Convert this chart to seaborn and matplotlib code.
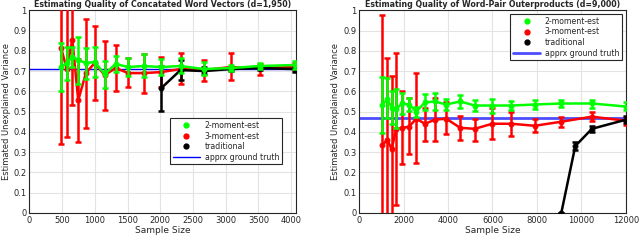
import matplotlib
matplotlib.use("Agg")
import matplotlib.pyplot as plt
from matplotlib.lines import Line2D
import seaborn as sns
import pandas as pd

# ---- left panel: concatenated word vectors ----
left_n = [484, 570, 656, 746, 862, 998, 1150, 1316, 1513, 1745, 2012, 2310, 2668, 3076, 3520, 4065]
left_m2 = [0.72, 0.74, 0.77, 0.755, 0.74, 0.745, 0.685, 0.735, 0.72, 0.725, 0.72, 0.725, 0.71, 0.715, 0.725, 0.73]
left_m2_lo = [0.60, 0.655, 0.72, 0.635, 0.66, 0.67, 0.615, 0.695, 0.675, 0.67, 0.68, 0.69, 0.68, 0.70, 0.71, 0.71]
left_m2_hi = [0.84, 0.82, 0.82, 0.87, 0.815, 0.82, 0.75, 0.775, 0.765, 0.785, 0.76, 0.765, 0.745, 0.73, 0.74, 0.75]
left_m3 = [0.815, 0.71, 0.855, 0.555, 0.69, 0.74, 0.68, 0.715, 0.69, 0.69, 0.695, 0.71, 0.705, 0.72, 0.715, 0.72]
left_m3_lo = [0.34, 0.375, 0.535, 0.35, 0.42, 0.555, 0.51, 0.60, 0.62, 0.59, 0.62, 0.635, 0.65, 0.655, 0.68, 0.70]
left_m3_hi = [1.29, 1.05, 1.17, 0.76, 0.955, 0.925, 0.85, 0.83, 0.765, 0.785, 0.77, 0.79, 0.755, 0.79, 0.735, 0.74]
left_tr_n = [2012, 2310, 2668, 3076, 3520, 4065]
left_tr = [0.615, 0.705, 0.70, 0.71, 0.715, 0.71]
left_tr_lo = [0.505, 0.655, 0.685, 0.70, 0.705, 0.695]
left_tr_hi = [0.725, 0.755, 0.72, 0.72, 0.725, 0.725]
left_truth = 0.71

# ---- right panel: word-pair outerproducts ----
right_n = [1047, 1271, 1466, 1675, 1945, 2244, 2573, 2962, 3411, 3919, 4548, 5206, 5984, 6851, 7898, 9095, 10471, 12000]
right_m2 = [0.535, 0.56, 0.52, 0.515, 0.54, 0.535, 0.50, 0.545, 0.55, 0.535, 0.55, 0.53, 0.53, 0.53, 0.535, 0.54, 0.54, 0.525]
right_m2_lo = [0.395, 0.47, 0.44, 0.42, 0.49, 0.505, 0.475, 0.51, 0.51, 0.51, 0.52, 0.505, 0.495, 0.51, 0.515, 0.525, 0.52, 0.51]
right_m2_hi = [0.67, 0.665, 0.60, 0.61, 0.59, 0.565, 0.525, 0.585, 0.59, 0.56, 0.58, 0.555, 0.56, 0.55, 0.555, 0.555, 0.555, 0.545]
right_m3 = [0.335, 0.36, 0.315, 0.415, 0.42, 0.425, 0.465, 0.44, 0.46, 0.465, 0.42, 0.415, 0.44, 0.44, 0.43, 0.45, 0.475, 0.455]
right_m3_lo = [-0.3, -0.05, -0.05, 0.04, 0.24, 0.29, 0.245, 0.355, 0.355, 0.39, 0.36, 0.355, 0.365, 0.38, 0.40, 0.425, 0.455, 0.435]
right_m3_hi = [0.975, 0.765, 0.675, 0.79, 0.60, 0.565, 0.69, 0.52, 0.565, 0.545, 0.48, 0.465, 0.52, 0.50, 0.465, 0.475, 0.50, 0.475]
right_tr_n = [9095, 9723, 10471, 12000]
right_tr = [0.0, 0.33, 0.415, 0.46]
right_tr_lo = [0.0, 0.31, 0.40, 0.445]
right_tr_hi = [0.0, 0.35, 0.43, 0.48]
right_truth = 0.47

GREEN = "#00ff00"
RED = "#ff0000"
BLACK = "#000000"
TXT = "#262626"

sns.set_style("whitegrid", {"grid.color": "#e3e3e3", "axes.edgecolor": TXT})
plt.rcParams["font.family"] = ["DejaVu Sans"]


def draw_series(ax, n, y, lo, hi, color, zorder):
    df = pd.DataFrame({"n": n, "y": y})
    sns.lineplot(data=df, x="n", y="y", ax=ax, color=color, lw=1.8, marker="o",
                 markersize=3.5, markeredgecolor=color, zorder=zorder, legend=False)
    yerr = [[v - l for v, l in zip(y, lo)], [h - v for v, h in zip(y, hi)]]
    ax.errorbar(n, y, yerr=yerr, fmt="none", ecolor=color, elinewidth=1.8,
                capsize=2.5, capthick=1.8, zorder=zorder)


def panel(ax, title, n, m2, m2_lo, m2_hi, m3, m3_lo, m3_hi,
          tr_n, tr, tr_lo, tr_hi, truth, xmax, xticks, truth_style, legend_loc):
    ax.axhline(truth, **truth_style, zorder=1)
    draw_series(ax, n, m3, m3_lo, m3_hi, RED, 3)
    draw_series(ax, tr_n, tr, tr_lo, tr_hi, BLACK, 4)
    draw_series(ax, n, m2, m2_lo, m2_hi, GREEN, 5)
    ax.set_xlim(0, xmax)
    ax.set_ylim(0, 1)
    ax.set_xticks(xticks)
    ax.set_yticks([i / 10 for i in range(11)])
    ax.set_yticklabels(["0"] + [f"{i / 10:g}" for i in range(1, 10)] + ["1"])
    ax.tick_params(labelsize=6, colors=TXT, length=2, direction="in", pad=2)
    ax.set_title(title, fontsize=5.7, fontweight="bold", pad=2.5)
    ax.set_xlabel("Sample Size", fontsize=6.5, color=TXT, labelpad=1)
    ax.set_ylabel("Estimated Unexplained Variance", fontsize=6, color=TXT, labelpad=2)
    for sp in ax.spines.values():
        sp.set_linewidth(0.8)
    handles = [
        Line2D([], [], ls="none", marker="o", color=GREEN, markersize=3.5),
        Line2D([], [], ls="none", marker="o", color=RED, markersize=3.5),
        Line2D([], [], ls="none", marker="o", color=BLACK, markersize=3.5),
        Line2D([], [], **truth_style),
    ]
    labels = ["2-moment-est", "3-moment-est", "traditional", "apprx ground truth"]
    leg = ax.legend(handles, labels, loc=legend_loc, fontsize=5.6, frameon=True,
                    fancybox=False, edgecolor=TXT, framealpha=1, handlelength=3.5,
                    borderpad=0.35, labelspacing=0.2, handletextpad=0.6)
    leg.get_frame().set_linewidth(0.8)
    return leg


fig, axes = plt.subplots(1, 2, figsize=(6.4, 2.4), dpi=100)
fig.subplots_adjust(left=0.046, right=0.978, bottom=0.113, top=0.957, wspace=0.235)

leg = panel(axes[0], "Estimating Quality of Concatated Word Vectors (d=1,950)",
            left_n, left_m2, left_m2_lo, left_m2_hi, left_m3, left_m3_lo, left_m3_hi,
            left_tr_n, left_tr, left_tr_lo, left_tr_hi, left_truth, 4080,
            [0, 500, 1000, 1500, 2000, 2500, 3000, 3500, 4000],
            {"color": "#0000ff", "lw": 1}, "lower right")
leg.set_bbox_to_anchor((0.96, 0.22), transform=axes[0].transAxes)

panel(axes[1], "Estimating Quality of Word-Pair Outerproducts (d=9,000)",
      right_n, right_m2, right_m2_lo, right_m2_hi, right_m3, right_m3_lo, right_m3_hi,
      right_tr_n, right_tr, right_tr_lo, right_tr_hi, right_truth, 12000,
      [0, 2000, 4000, 6000, 8000, 10000, 12000],
      {"color": "#4d4dff", "lw": 2}, "upper right")

fig.savefig("out.png", dpi=100)
